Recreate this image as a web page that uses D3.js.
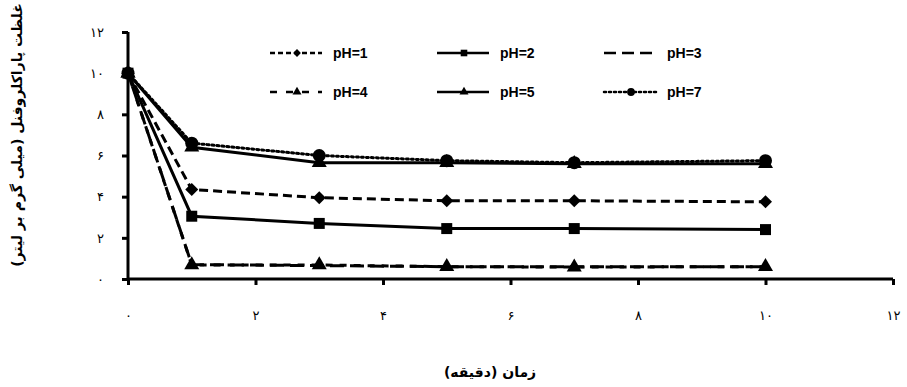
<!DOCTYPE html>
<html>
<head>
<meta charset="utf-8">
<script src="https://cdn.jsdelivr.net/npm/d3@7"></script>
<style>
  body { margin: 0; background: #fff; }
  svg { display: block; }
</style>
</head>
<body>
<svg id="chart" width="907" height="387"></svg>
<script>
// data (time in minutes, concentration mg/L)
const times = [0, 1, 3, 5, 7, 10];
const ph1 = [10, 4.35, 3.95, 3.8, 3.8, 3.75];
const ph2 = [10, 3.05, 2.7, 2.45, 2.45, 2.4];
const ph3 = [10, 0.7, 0.65, 0.6, 0.6, 0.6];
const ph4 = [10, 0.68, 0.68, 0.6, 0.58, 0.6];
const ph5 = [10, 6.4, 5.65, 5.65, 5.6, 5.6];
const ph7 = [10, 6.6, 6.0, 5.75, 5.65, 5.75];
const seriesNames = ['pH=1', 'pH=2', 'pH=3', 'pH=4', 'pH=5', 'pH=7'];
const xTicks = [0, 2, 4, 6, 8, 10, 12];
const yTicks = [0, 2, 4, 6, 8, 10, 12];
const xTitle = 'زمان (دقیقه)';
const yTitle = 'غلظت پاراکلروفنل (میلی گرم بر لیتر)';

const persian = n => String(n).replace(/\d/g, c => '۰۱۲۳۴۵۶۷۸۹'[c]);

const svg = d3.select('#chart');
const x = d3.scaleLinear().domain([0, 12]).range([128, 893]);
const y = d3.scaleLinear().domain([0, 12]).range([279, 32]);

// series styles
const styles = [
  { values: ph1, dash: '9,5', marker: 'diamond', legDash: '5,3' },
  { values: ph2, dash: null, marker: 'square', legDash: null },
  { values: ph3, dash: '14,6', marker: null, legDash: '12,6' },
  { values: ph4, dash: '7,7', marker: 'triangle', legDash: '7,9' },
  { values: ph5, dash: null, marker: 'triangle', legDash: null },
  { values: ph7, dash: '2,3', marker: 'circle', legDash: '2,3' }
];

const markerPath = (type, s) => {
  if (type === 'circle') return d3.symbol(d3.symbolCircle, Math.PI * s * s / 4)();
  if (type === 'square') return d3.symbol(d3.symbolSquare, s * s)();
  if (type === 'diamond') return d3.symbol(d3.symbolSquare, s * s / 2)();
  if (type === 'triangle') return d3.symbol(d3.symbolTriangle, s * s * Math.sqrt(3) / 4)();
  return null;
};
const markerSize = { circle: 13, square: 11, diamond: 13, triangle: 15 };

// axes
const yAxis = d3.axisLeft(y).tickValues(yTicks).tickSize(6).tickFormat(persian).tickPadding(18);
const xAxis = d3.axisBottom(x).tickValues(xTicks).tickSize(6).tickFormat(persian).tickPadding(26);

const gy = svg.append('g').attr('transform', `translate(${x(0)},0)`).call(yAxis);
const gx = svg.append('g').attr('transform', `translate(0,${y(0)})`).call(xAxis);
[gx, gy].forEach(g => {
  g.select('.domain').attr('stroke', '#000').attr('stroke-width', 3);
  g.selectAll('.tick line').attr('stroke', '#000').attr('stroke-width', 3);
  g.selectAll('.tick text')
    .attr('fill', '#000')
    .style('font-family', '"DejaVu Sans", sans-serif')
    .style('font-size', '13px');
});
gy.select('.domain').attr('d', `M0,${y(12)}V${y(0)}`);
gx.select('.domain').attr('d', `M${x(0)},0H${x(12)}`);

// lines
const line = d3.line().x((d, i) => x(times[i])).y(d => y(d));
styles.forEach(s => {
  svg.append('path')
    .datum(s.values)
    .attr('fill', 'none')
    .attr('stroke', '#000')
    .attr('stroke-width', 3)
    .attr('stroke-dasharray', s.dash)
    .attr('stroke-linecap', s.dash === '2,3' ? 'round' : 'butt')
    .attr('d', line);
});

// markers
styles.forEach(s => {
  if (!s.marker) return;
  svg.append('g')
    .selectAll('path')
    .data(s.values)
    .enter().append('path')
    .attr('d', markerPath(s.marker, markerSize[s.marker]))
    .attr('transform', (d, i) => `translate(${x(times[i])},${y(d)})` + (s.marker === 'diamond' ? ' rotate(45)' : ''))
    .attr('fill', '#000');
});

// legend
const legCols = [270, 437, 604];
const legRows = [53, 92];
styles.forEach((s, i) => {
  const col = i % 3, row = Math.floor(i / 3);
  const lx = legCols[col], ly = legRows[row];
  const g = svg.append('g').attr('transform', `translate(${lx},${ly})`);
  g.append('line')
    .attr('x1', 0).attr('x2', 52)
    .attr('y1', 0).attr('y2', 0)
    .attr('stroke', '#000')
    .attr('stroke-width', 2.5)
    .attr('stroke-linecap', s.legDash === '2,3' ? 'round' : 'butt')
    .attr('stroke-dasharray', s.legDash);
  if (s.marker) {
    g.append('path')
      .attr('d', markerPath(s.marker, markerSize[s.marker] * 0.6))
      .attr('transform', `translate(27,0)` + (s.marker === 'diamond' ? ' rotate(45)' : ''))
      .attr('fill', '#000');
  }
  g.append('text')
    .attr('x', 63)
    .attr('y', 5)
    .style('font-family', '"Liberation Sans", Arial, sans-serif')
    .style('font-weight', 'bold')
    .style('font-size', '14px')
    .text(seriesNames[i]);
});

// axis titles
svg.append('text')
  .attr('x', 490)
  .attr('y', 377)
  .attr('text-anchor', 'middle')
  .attr('direction', 'rtl')
  .style('font-family', '"DejaVu Sans", sans-serif')
  .style('font-weight', 'bold')
  .style('font-size', '14px')
  .text(xTitle);
svg.append('text')
  .attr('transform', 'rotate(-90)')
  .attr('x', -135)
  .attr('y', 22)
  .attr('text-anchor', 'middle')
  .attr('direction', 'rtl')
  .style('font-family', '"DejaVu Sans", sans-serif')
  .style('font-weight', 'bold')
  .style('font-size', '14px')
  .text(yTitle);
</script>
</body>
</html>
